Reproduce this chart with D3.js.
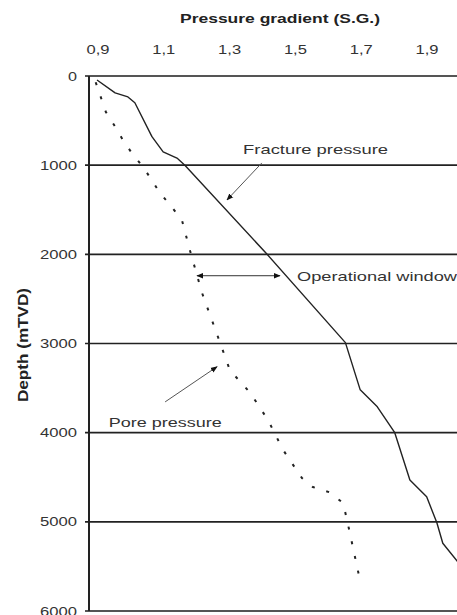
<!DOCTYPE html>
<html>
<head>
<meta charset="utf-8">
<script src="https://cdn.jsdelivr.net/npm/d3@7"></script>
<style>
  body { margin: 0; background: #fff; }
  svg { display: block; font-family: "Liberation Sans", Arial, sans-serif; }
</style>
</head>
<body>
<div id="chart"></div>
<script>
// Pressure gradient vs depth, fracture + pore pressure

const xTicks = [0.9, 1.1, 1.3, 1.5, 1.7, 1.9];
const xTickLabels = ['0,9', '1,1', '1,3', '1,5', '1,7', '1,9'];
const yTicks = [0, 1000, 2000, 3000, 4000, 5000, 6000];

// fracture pressure (S.G.) at depth (m)
const fracGrad = [0.897, 0.952, 0.991, 1.012, 1.064, 1.098, 1.14, 1.164, 1.414, 1.652, 1.697, 1.749, 1.802, 1.848, 1.899, 1.93, 1.948, 1.998];
const fracDepth = [45, 190, 235, 300, 680, 850, 920, 1000, 2000, 2990, 3520, 3710, 4000, 4530, 4720, 5010, 5240, 5470];

// pore pressure
const poreGrad = [0.893, 0.924, 0.949, 0.976, 1.003, 1.037, 1.064, 1.088, 1.119, 1.155, 1.179, 1.216, 1.265, 1.301, 1.362, 1.417, 1.462, 1.52, 1.553, 1.605, 1.645, 1.657, 1.696];
const poreDepth = [70, 405, 550, 720, 865, 1020, 1170, 1310, 1445, 1615, 1950, 2430, 2930, 3300, 3550, 3860, 4190, 4510, 4610, 4670, 4790, 4980, 5650];

const W = 457, H = 615;

const svg = d3.select('#chart').append('svg')
  .attr('width', W)
  .attr('height', H);

const x = d3.scaleLinear().domain([0.9, 1.9]).range([98, 427]);
const y = d3.scaleLinear().domain([0, 6000]).range([76, 611]);
const left = 89, right = W;

// arrowhead
svg.append('defs').append('marker')
  .attr('id', 'arrow')
  .attr('viewBox', '0 -5 10 10')
  .attr('refX', 9)
  .attr('refY', 0)
  .attr('markerWidth', 7)
  .attr('markerHeight', 7)
  .attr('markerUnits', 'userSpaceOnUse')
  .attr('orient', 'auto-start-reverse')
  .append('path')
  .attr('d', 'M0,-4L10,0L0,4Z')
  .attr('fill', '#111');

// horizontal grid lines
svg.append('g')
  .selectAll('line')
  .data(yTicks)
  .enter()
  .append('line')
  .attr('x1', left - 4)
  .attr('x2', right)
  .attr('y1', d => y(d))
  .attr('y2', d => y(d))
  .attr('stroke', d => (d === 0 || d === 6000) ? '#555' : '#222')
  .attr('stroke-width', d => (d === 0 || d === 6000) ? 2 : 1.6);

// left axis line
svg.append('line')
  .attr('x1', left).attr('x2', left)
  .attr('y1', y(0)).attr('y2', y(6000))
  .attr('stroke', '#222')
  .attr('stroke-width', 2);

// helper: text squeezed/stretched to a fixed width
const label = (g, txt, len) => g.append('text').text(txt)
  .attr('textLength', len)
  .attr('lengthAdjust', 'spacingAndGlyphs');

// y tick labels
svg.append('g')
  .selectAll('text')
  .data(yTicks)
  .enter()
  .append('text')
  .attr('x', left - 12)
  .attr('y', d => y(d) + 4.5)
  .attr('text-anchor', 'end')
  .attr('font-size', '12px')
  .attr('fill', '#333')
  .attr('textLength', d => d === 0 ? 9 : 37)
  .attr('lengthAdjust', 'spacingAndGlyphs')
  .text(d => d);

// x tick labels (top)
svg.append('g')
  .selectAll('text')
  .data(xTicks)
  .enter()
  .append('text')
  .attr('x', d => x(d))
  .attr('y', 54)
  .attr('text-anchor', 'middle')
  .attr('font-size', '12px')
  .attr('fill', '#333')
  .attr('textLength', 23)
  .attr('lengthAdjust', 'spacingAndGlyphs')
  .text((d, i) => xTickLabels[i]);

// axis titles
label(svg, 'Pressure gradient (S.G.)', 200)
  .attr('x', 180).attr('y', 23)
  .attr('font-size', '13px')
  .attr('font-weight', 'bold')
  .attr('fill', '#222');

label(svg, 'Depth (mTVD)', 114)
  .attr('transform', `translate(28,${(288 + 402) / 2}) rotate(-90)`)
  .attr('text-anchor', 'middle')
  .attr('font-size', '14px')
  .attr('font-weight', 'bold')
  .attr('fill', '#222');

// curves
const line = d3.line()
  .x(d => x(d[0]))
  .y(d => y(d[1]));

const plot = svg.append('g');
plot.append('clipPath').attr('id', 'clip')
  .append('rect').attr('x', left).attr('y', y(0)).attr('width', right - left).attr('height', y(6000) - y(0));

plot.append('path')
  .datum(d3.zip(fracGrad, fracDepth))
  .attr('clip-path', 'url(#clip)')
  .attr('fill', 'none')
  .attr('stroke', '#222')
  .attr('stroke-width', 1.4)
  .attr('stroke-linejoin', 'round')
  .attr('d', line);

plot.append('path')
  .datum(d3.zip(poreGrad, poreDepth))
  .attr('fill', 'none')
  .attr('stroke', '#222')
  .attr('stroke-width', 2)
  .attr('stroke-dasharray', '3,12')
  .attr('d', line);

// annotations
const ann = svg.append('g').attr('font-size', '13px').attr('fill', '#333');

label(ann, 'Fracture pressure', 145)
  .attr('x', x(1.341)).attr('y', y(880));
ann.append('line')
  .attr('x1', x(1.398)).attr('y1', y(975))
  .attr('x2', x(1.292)).attr('y2', y(1390))
  .attr('stroke', '#555').attr('stroke-width', 1)
  .attr('marker-end', 'url(#arrow)');

label(ann, 'Operational window', 160)
  .attr('x', x(1.505)).attr('y', y(2300));
ann.append('line')
  .attr('x1', x(1.201)).attr('y1', y(2240))
  .attr('x2', x(1.453)).attr('y2', y(2240))
  .attr('stroke', '#333').attr('stroke-width', 1)
  .attr('marker-start', 'url(#arrow)')
  .attr('marker-end', 'url(#arrow)');

label(ann, 'Pore pressure', 113)
  .attr('x', x(0.933)).attr('y', y(3935));
ann.append('line')
  .attr('x1', x(1.104)).attr('y1', y(3655))
  .attr('x2', x(1.262)).attr('y2', y(3260))
  .attr('stroke', '#555').attr('stroke-width', 1)
  .attr('marker-end', 'url(#arrow)');
</script>
</body>
</html>
